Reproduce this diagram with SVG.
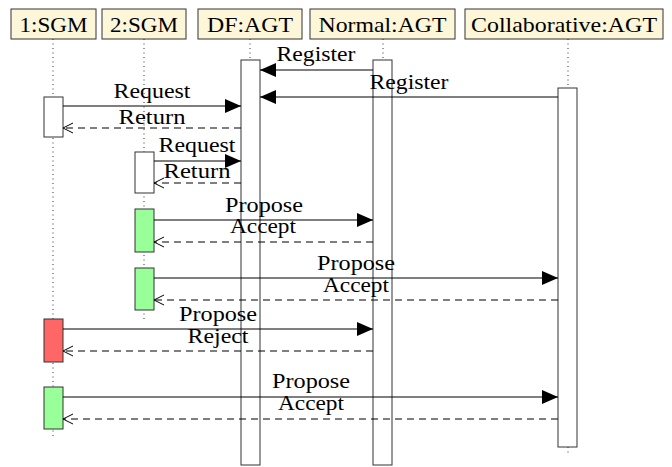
<svg xmlns="http://www.w3.org/2000/svg" width="672" height="467" viewBox="0 0 672 467">
  <defs>
    <marker id="solid" viewBox="0 0 16 14" refX="16" refY="7" markerWidth="16" markerHeight="14" markerUnits="userSpaceOnUse" orient="auto">
      <path d="M0,0 L16,7 L0,14 Z" fill="#000"/>
    </marker>
    <marker id="open" viewBox="0 0 12 12" refX="11" refY="6" markerWidth="12" markerHeight="12" markerUnits="userSpaceOnUse" orient="auto">
      <path d="M1,1 L11,6 L1,11" fill="none" stroke="#000" stroke-width="1"/>
    </marker>
  </defs>
  <style>
    text { font-family: 'Liberation Serif', 'DejaVu Serif', serif; font-size: 22px; fill: #000; text-anchor: middle; }
    .head { fill: #fdf6d9; stroke: #333; stroke-width: 1; }
    .life { stroke: #333; stroke-width: 1; stroke-dasharray: 1 3.5; fill: none; }
    .act { fill: #fff; stroke: #333; stroke-width: 1; }
    .act.ok { fill: #99ff99; }
    .act.no { fill: #ff6666; }
    .call { stroke: #000; stroke-width: 1.1; fill: none; marker-end: url(#solid); }
    .reply { stroke: #000; stroke-width: 1.1; fill: none; stroke-dasharray: 7 5; marker-end: url(#open); }
  </style>
  <rect width="672" height="467" fill="#fff"/>

  <!-- lifelines -->
  <g id="lifelines">
    <line class="life" x1="53" y1="39" x2="53" y2="437"/>
    <line class="life" x1="144" y1="39" x2="144" y2="321"/>
    <line class="life" x1="250" y1="39" x2="250" y2="60"/>
    <line class="life" x1="383" y1="39" x2="383" y2="60"/>
    <line class="life" x1="568" y1="39" x2="568" y2="88"/>
    <line class="life" x1="568" y1="447" x2="568" y2="456"/>
  </g>

  <!-- participants -->
  <g id="sgm1" font-family="Liberation Serif, DejaVu Serif, serif">
    <rect class="head" x="11" y="9" width="85" height="30"/>
    <text x="53.5" y="32" textLength="68" lengthAdjust="spacingAndGlyphs">1:SGM</text>
    <rect class="act" x="44" y="97" width="19" height="40"/>
    <rect class="act no" x="44" y="319" width="19" height="43"/>
    <rect class="act ok" x="44" y="387" width="19" height="42"/>
  </g>
  <g id="sgm2">
    <rect class="head" x="102" y="9" width="84" height="30"/>
    <text x="144" y="32" textLength="68" lengthAdjust="spacingAndGlyphs">2:SGM</text>
    <rect class="act" x="135" y="152" width="19" height="41"/>
    <rect class="act ok" x="135" y="209" width="19" height="43"/>
    <rect class="act ok" x="135" y="268" width="19" height="42"/>
  </g>
  <g id="df">
    <rect class="head" x="198" y="9" width="104" height="30"/>
    <text x="250" y="32" textLength="86" lengthAdjust="spacingAndGlyphs">DF:AGT</text>
    <rect class="act" x="241" y="60" width="19" height="405"/>
  </g>
  <g id="normal">
    <rect class="head" x="310" y="9" width="145" height="30"/>
    <text x="382.5" y="32" textLength="128" lengthAdjust="spacingAndGlyphs">Normal:AGT</text>
    <rect class="act" x="373" y="60" width="19" height="405"/>
  </g>
  <g id="collab">
    <rect class="head" x="465" y="9" width="198" height="30"/>
    <text x="564" y="32" textLength="186" lengthAdjust="spacingAndGlyphs">Collaborative:AGT</text>
    <rect class="act" x="558" y="88" width="19" height="359"/>
  </g>

  <!-- messages -->
  <g id="connectors">
    <line class="call" x1="373" y1="70" x2="260" y2="70"/>
    <line class="call" x1="558" y1="97" x2="260" y2="97"/>
    <line class="call" x1="63" y1="106" x2="241" y2="106"/>
    <line class="reply" x1="241" y1="128" x2="63" y2="128"/>
    <line class="call" x1="154" y1="161" x2="241" y2="161"/>
    <line class="reply" x1="241" y1="183" x2="154" y2="183"/>
    <line class="call" x1="154" y1="220" x2="373" y2="220"/>
    <line class="reply" x1="373" y1="242" x2="154" y2="242"/>
    <line class="call" x1="154" y1="278" x2="558" y2="278"/>
    <line class="reply" x1="558" y1="300" x2="154" y2="300"/>
    <line class="call" x1="63" y1="329" x2="373" y2="329"/>
    <line class="reply" x1="373" y1="351" x2="63" y2="351"/>
    <line class="call" x1="63" y1="397" x2="558" y2="397"/>
    <line class="reply" x1="558" y1="419" x2="63" y2="419"/>
  </g>

  <!-- message labels -->
  <g id="labels">
    <text x="316" y="61" textLength="79" lengthAdjust="spacingAndGlyphs">Register</text>
    <text x="409" y="89" textLength="79" lengthAdjust="spacingAndGlyphs">Register</text>
    <text x="152" y="98" textLength="77" lengthAdjust="spacingAndGlyphs">Request</text>
    <text x="152" y="124" textLength="67" lengthAdjust="spacingAndGlyphs">Return</text>
    <text x="197" y="152" textLength="77" lengthAdjust="spacingAndGlyphs">Request</text>
    <text x="197" y="178" textLength="67" lengthAdjust="spacingAndGlyphs">Return</text>
    <text x="264" y="212" textLength="78" lengthAdjust="spacingAndGlyphs">Propose</text>
    <text x="263" y="233" textLength="66" lengthAdjust="spacingAndGlyphs">Accept</text>
    <text x="356" y="270" textLength="78" lengthAdjust="spacingAndGlyphs">Propose</text>
    <text x="356" y="292" textLength="66" lengthAdjust="spacingAndGlyphs">Accept</text>
    <text x="218" y="321" textLength="78" lengthAdjust="spacingAndGlyphs">Propose</text>
    <text x="218" y="343" textLength="61" lengthAdjust="spacingAndGlyphs">Reject</text>
    <text x="311" y="388" textLength="78" lengthAdjust="spacingAndGlyphs">Propose</text>
    <text x="311" y="410" textLength="66" lengthAdjust="spacingAndGlyphs">Accept</text>
  </g>
</svg>
